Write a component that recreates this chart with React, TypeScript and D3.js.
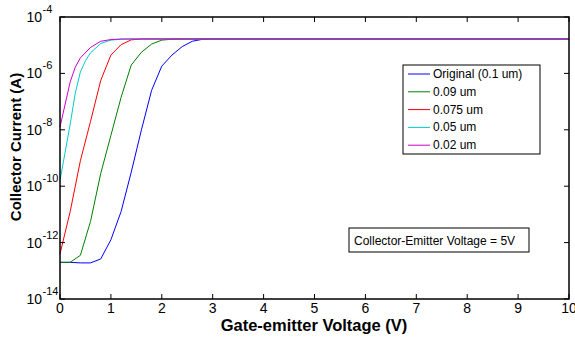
import React from "react";
import * as d3 from "d3";

// ---- data ----
const seriesNames = ["Original (0.1 um)", "0.09 um", "0.075 um", "0.05 um", "0.02 um"];
const seriesColors = ["#0000ff", "#008000", "#ff0000", "#00cccc", "#cc00cc"];

// gate-emitter voltage (V) and log10 of collector current (A)
const originalV = [0, 0.2, 0.4, 0.6, 0.8, 1.0, 1.2, 1.4, 1.6, 1.8, 2.0, 2.2, 2.4, 2.6, 2.8, 3.0, 10];
const originalLogI = [-12.7, -12.7, -12.72, -12.72, -12.58, -11.9, -10.9, -9.5, -8.0, -6.6, -5.74, -5.35, -5.05, -4.86, -4.79, -4.78, -4.78];

const um09V = [0, 0.2, 0.4, 0.6, 0.8, 1.0, 1.2, 1.4, 1.6, 1.8, 2.0, 2.2, 2.4, 10];
const um09LogI = [-12.7, -12.7, -12.45, -11.25, -9.55, -8.2, -6.85, -5.7, -5.25, -4.96, -4.82, -4.79, -4.78, -4.78];

const um075V = [0, 0.2, 0.4, 0.6, 0.8, 1.0, 1.2, 1.4, 1.6, 10];
const um075LogI = [-12.4, -10.9, -9.1, -7.7, -6.25, -5.35, -4.98, -4.81, -4.78, -4.78];

const um05V = [0, 0.1, 0.2, 0.3, 0.4, 0.5, 0.6, 0.8, 1.0, 1.2, 1.4, 10];
const um05LogI = [-9.8, -8.8, -7.8, -6.7, -5.95, -5.55, -5.27, -4.94, -4.82, -4.79, -4.78, -4.78];

const um02V = [0, 0.2, 0.3, 0.4, 0.6, 0.8, 1.0, 1.2, 10];
const um02LogI = [-7.9, -6.3, -5.78, -5.45, -5.08, -4.86, -4.8, -4.78, -4.78];

const xTicks = [0, 1, 2, 3, 4, 5, 6, 7, 8, 9, 10];
const yTickExps = [-4, -6, -8, -10, -12, -14];

const seriesV = [originalV, um09V, um075V, um05V, um02V];
const seriesLogI = [originalLogI, um09LogI, um075LogI, um05LogI, um02LogI];

const xLabel = "Gate-emitter Voltage (V)";
const yLabel = "Collector Current (A)";
const note = "Collector-Emitter Voltage = 5V";

export default function App() {
  const W = 575, H = 337;
  const left = 60, right = 569, top = 17, bottom = 299;
  const x = d3.scaleLinear().domain([0, 10]).range([left, right]);
  const y = d3.scaleLog().domain([1e-14, 1e-4]).range([bottom, top]);
  const line = d3
    .line<[number, number]>()
    .x((d) => x(d[0]))
    .y((d) => y(Math.pow(10, d[1])));

  const font = "'Liberation Sans', Arial, Helvetica, sans-serif";
  const tickLen = 5;

  const legX = 403, legY = 65, legW = 137, legH = 89;

  return (
    <svg
      width={W}
      height={H}
      style={{ position: "fixed", left: 0, top: 0, background: "#fff" }}
      fontFamily={font}
    >
      <rect x={0} y={0} width={W} height={H} fill="#fff" />
      {/* curves */}
      <g fill="none" strokeWidth={1}>
        {seriesV.map((vs, i) => (
          <path
            key={i}
            d={line(vs.map((v, j) => [v, seriesLogI[i][j]] as [number, number])) || ""}
            stroke={seriesColors[i]}
          />
        ))}
      </g>
      {/* ticks */}
      <g stroke="#000" strokeWidth={1}>
        {xTicks.map((t) => (
          <g key={"xt" + t}>
            <line x1={x(t)} x2={x(t)} y1={bottom} y2={bottom - tickLen} />
            <line x1={x(t)} x2={x(t)} y1={top} y2={top + tickLen} />
          </g>
        ))}
        {yTickExps.map((e) => (
          <g key={"yt" + e}>
            <line x1={left} x2={left + tickLen} y1={y(Math.pow(10, e))} y2={y(Math.pow(10, e))} />
            <line x1={right} x2={right - tickLen} y1={y(Math.pow(10, e))} y2={y(Math.pow(10, e))} />
          </g>
        ))}
      </g>
      {/* frame */}
      <rect
        x={left}
        y={top}
        width={right - left}
        height={bottom - top}
        fill="none"
        stroke="#000"
        strokeWidth={1.5}
      />
      {/* x tick labels */}
      {xTicks.map((t) => (
        <text key={"xl" + t} x={x(t)} y={312.5} textAnchor="middle" fontSize={14} fill="#000">
          {t}
        </text>
      ))}
      {/* y tick labels */}
      {yTickExps.map((e) => {
        const yy = y(Math.pow(10, e));
        return (
          <g key={"yl" + e}>
            <text x={42} y={yy + 5} textAnchor="end" fontSize={14} fill="#000">
              10
            </text>
            <text x={42.5} y={yy - 4} textAnchor="start" fontSize={11} fill="#000">
              {"-" + Math.abs(e)}
            </text>
          </g>
        );
      })}
      {/* axis labels */}
      <text x={314} y={331} textAnchor="middle" fontSize={16.5} fontWeight="bold" fill="#000">
        {xLabel}
      </text>
      <text
        transform={`translate(21,147) rotate(-90)`}
        textAnchor="middle"
        fontSize={15}
        fontWeight="bold"
        fill="#000"
      >
        {yLabel}
      </text>
      {/* legend */}
      <rect x={legX} y={legY} width={legW} height={legH} fill="#fff" stroke="#000" strokeWidth={1} />
      {seriesNames.map((n, i) => {
        const ly = 74 + i * 17.8;
        return (
          <g key={"lg" + i}>
            <line x1={408} x2={430} y1={ly} y2={ly} stroke={seriesColors[i]} strokeWidth={1} />
            <text x={433} y={ly + 4} fontSize={12} fill="#000">
              {n}
            </text>
          </g>
        );
      })}
      {/* annotation */}
      <rect x={349} y={228} width={180} height={24} fill="#fff" stroke="#000" strokeWidth={1} />
      <text x={354} y={244.5} fontSize={12} fill="#000">
        {note}
      </text>
    </svg>
  );
}
